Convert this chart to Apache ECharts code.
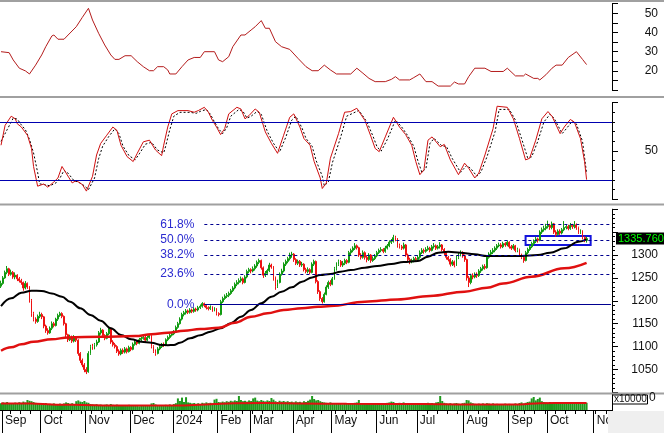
<!DOCTYPE html>
<html><head><meta charset="utf-8">
<script src="https://cdn.jsdelivr.net/npm/echarts@6/dist/echarts.min.js"></script>
<style>html,body{margin:0;padding:0;background:#fff}#c{width:664px;height:433px}</style>
</head><body><div id="c"></div>
<script>
// ---------- categories (trading days) ----------
const firstDay = '2023-08-31', lastDay = '2024-11-13';
const holidays = ['2023-09-01','2023-09-04','2024-01-01','2024-02-08','2024-02-09','2024-02-12','2024-02-13','2024-02-14','2024-04-18','2024-04-29','2024-04-30','2024-05-01','2024-09-02','2024-09-03'];
const monthNames = ['Jan','Feb','Mar','Apr','May','Jun','Jul','Aug','Sep','Oct','Nov','Dec'];

// ---------- price data (one value per trading day) ----------
const open = [1232,1238,1250,1262,1270,1258,1262,1252,1256,1248,1244,1240,1228,1238,1230,1200,1172,1160,1155,1166,1170,1165,1145,1135,1130,1140,1150,1146,1160,1168,1172,1166,1150,1126,1115,1121,1112,1120,1114,1085,1070,1060,1050,1045,1085,1100,1097,1104,1110,1130,1136,1124,1118,1128,1140,1110,1104,1100,1090,1084,1092,1088,1095,1089,1098,1094,1105,1110,1107,1115,1118,1120,1114,1120,1124,1100,1090,1085,1095,1100,1105,1103,1115,1120,1125,1128,1132,1142,1150,1160,1170,1174,1178,1175,1180,1177,1182,1180,1185,1188,1194,1190,1185,1183,1186,1180,1182,1172,1170,1198,1205,1210,1212,1216,1222,1228,1236,1240,1244,1248,1240,1252,1264,1268,1265,1270,1276,1284,1288,1272,1256,1260,1266,1278,1274,1250,1232,1240,1258,1265,1280,1286,1292,1300,1302,1290,1282,1286,1278,1280,1268,1264,1268,1262,1280,1286,1242,1220,1205,1198,1214,1230,1240,1236,1248,1270,1280,1286,1278,1282,1288,1284,1305,1310,1315,1320,1316,1300,1295,1305,1295,1290,1300,1288,1292,1298,1305,1310,1312,1308,1315,1320,1328,1330,1338,1335,1320,1318,1315,1322,1300,1290,1285,1288,1292,1290,1295,1305,1310,1308,1312,1315,1310,1318,1320,1315,1318,1322,1312,1305,1295,1290,1280,1285,1278,1295,1300,1305,1298,1290,1250,1240,1255,1252,1258,1255,1265,1270,1275,1272,1295,1302,1306,1310,1315,1320,1322,1318,1325,1322,1328,1318,1315,1320,1310,1312,1300,1295,1288,1305,1312,1318,1325,1330,1335,1332,1350,1355,1358,1362,1365,1360,1368,1350,1345,1352,1348,1355,1360,1362,1358,1365,1362,1366,1360,1350,1352,1338,1332];
const close = [1238,1250,1262,1270,1258,1262,1252,1256,1248,1244,1240,1228,1238,1230,1200,1172,1160,1155,1166,1170,1165,1145,1135,1130,1140,1150,1146,1160,1168,1172,1166,1150,1126,1115,1121,1112,1120,1114,1085,1070,1060,1050,1045,1085,1100,1097,1104,1110,1130,1136,1124,1118,1128,1140,1110,1104,1100,1090,1084,1092,1088,1095,1089,1098,1094,1105,1110,1107,1115,1118,1120,1114,1120,1124,1100,1090,1085,1095,1100,1105,1103,1115,1120,1125,1128,1132,1142,1150,1160,1170,1174,1178,1175,1180,1177,1182,1180,1185,1188,1194,1190,1185,1183,1186,1180,1182,1172,1170,1198,1205,1210,1212,1216,1222,1228,1236,1240,1244,1248,1240,1252,1264,1268,1265,1270,1276,1284,1288,1272,1256,1260,1266,1278,1274,1250,1232,1240,1258,1265,1280,1286,1292,1300,1302,1290,1282,1286,1278,1280,1268,1264,1268,1262,1280,1286,1242,1220,1205,1198,1214,1230,1240,1236,1248,1270,1280,1286,1278,1282,1288,1284,1305,1310,1315,1320,1316,1300,1295,1305,1295,1290,1300,1288,1292,1298,1305,1310,1312,1308,1315,1320,1328,1330,1338,1335,1320,1318,1315,1322,1300,1290,1285,1288,1292,1290,1295,1305,1310,1308,1312,1315,1310,1318,1320,1315,1318,1322,1312,1305,1295,1290,1280,1285,1278,1295,1300,1305,1298,1290,1250,1240,1255,1252,1258,1255,1265,1270,1275,1272,1295,1302,1306,1310,1315,1320,1322,1318,1325,1322,1328,1318,1315,1320,1310,1312,1300,1295,1288,1305,1312,1318,1325,1330,1335,1332,1350,1355,1358,1362,1365,1360,1368,1350,1345,1352,1348,1355,1360,1362,1358,1365,1362,1366,1360,1350,1352,1338,1332,1335.76];
const high = [1244,1254,1266,1276,1272,1268,1265,1262,1258,1252,1248,1242,1243,1240,1232,1204,1176,1164,1170,1176,1174,1167,1148,1140,1144,1155,1154,1163,1172,1176,1175,1168,1152,1128,1126,1124,1125,1122,1116,1088,1074,1064,1055,1090,1104,1106,1108,1115,1134,1141,1138,1127,1132,1144,1142,1114,1108,1103,1094,1096,1096,1099,1098,1102,1101,1109,1114,1113,1119,1122,1125,1123,1124,1128,1126,1103,1094,1099,1104,1108,1109,1118,1124,1129,1132,1136,1146,1154,1164,1174,1178,1182,1181,1184,1183,1186,1185,1189,1192,1197,1196,1193,1188,1190,1188,1186,1184,1175,1202,1209,1214,1217,1220,1226,1232,1240,1245,1249,1253,1251,1256,1268,1272,1271,1275,1280,1288,1292,1290,1275,1265,1270,1283,1281,1276,1253,1246,1262,1270,1284,1290,1296,1305,1307,1304,1293,1290,1289,1285,1282,1272,1273,1271,1284,1290,1288,1245,1223,1208,1218,1234,1244,1245,1252,1274,1284,1290,1289,1287,1292,1291,1309,1314,1319,1326,1323,1318,1304,1310,1308,1298,1304,1302,1297,1302,1309,1314,1317,1315,1320,1324,1332,1335,1344,1342,1337,1325,1322,1327,1324,1303,1294,1292,1296,1296,1300,1310,1315,1314,1317,1320,1318,1322,1326,1323,1322,1328,1324,1315,1308,1298,1293,1289,1288,1299,1305,1310,1308,1301,1292,1254,1259,1260,1262,1262,1269,1274,1279,1280,1299,1306,1311,1315,1319,1324,1327,1326,1329,1328,1332,1330,1322,1324,1322,1316,1314,1303,1298,1309,1316,1322,1329,1334,1340,1338,1354,1360,1364,1368,1375,1368,1373,1370,1354,1356,1356,1359,1374,1366,1366,1370,1368,1374,1369,1362,1356,1354,1341,1340];
const low = [1228,1235,1248,1258,1254,1255,1248,1247,1243,1240,1235,1222,1225,1226,1196,1165,1155,1150,1152,1162,1160,1140,1130,1126,1128,1136,1142,1144,1156,1165,1162,1146,1120,1110,1112,1108,1109,1110,1080,1064,1055,1044,1040,1043,1082,1093,1094,1100,1108,1126,1120,1114,1116,1125,1106,1100,1096,1086,1080,1081,1084,1085,1085,1087,1090,1092,1102,1103,1105,1112,1115,1110,1112,1117,1096,1086,1080,1083,1092,1097,1099,1101,1112,1117,1122,1125,1130,1139,1148,1157,1166,1170,1171,1172,1173,1174,1176,1177,1182,1185,1186,1181,1179,1180,1176,1177,1168,1166,1168,1195,1202,1206,1208,1213,1219,1225,1232,1236,1240,1236,1238,1249,1260,1260,1262,1266,1272,1280,1268,1250,1252,1256,1263,1270,1244,1224,1228,1238,1255,1262,1276,1282,1288,1294,1285,1278,1278,1274,1274,1264,1260,1260,1258,1260,1276,1238,1215,1200,1194,1196,1212,1226,1232,1234,1246,1266,1276,1274,1274,1278,1280,1282,1300,1306,1311,1312,1296,1290,1292,1290,1284,1287,1283,1285,1289,1295,1302,1306,1304,1305,1312,1317,1324,1327,1330,1316,1314,1311,1312,1296,1285,1280,1282,1284,1286,1287,1292,1302,1303,1305,1309,1306,1308,1314,1311,1312,1314,1308,1300,1290,1286,1275,1276,1273,1276,1291,1297,1294,1285,1244,1230,1236,1247,1249,1250,1252,1261,1266,1268,1270,1292,1298,1302,1306,1311,1317,1314,1315,1318,1319,1314,1311,1312,1306,1306,1296,1291,1283,1286,1302,1309,1315,1321,1326,1327,1330,1346,1351,1354,1358,1355,1356,1346,1340,1342,1344,1345,1352,1356,1354,1355,1357,1358,1355,1346,1346,1334,1328,1327];
const volume = [34,38,36,40,33,35,31,37,34,39,36,42,38,50,46,44,40,36,32,34,33,30,35,29,31,28,33,30,27,32,29,33,38,35,31,34,30,44,48,42,40,45,38,36,30,28,26,29,25,27,24,26,28,23,30,26,24,27,22,25,21,24,22,26,20,23,21,25,19,22,24,20,23,21,33,35,28,24,22,25,23,26,24,28,25,30,34,58,45,62,40,64,38,36,33,35,31,34,30,36,33,38,34,36,32,52,56,40,38,42,39,44,41,46,43,48,45,70,50,44,46,42,48,45,58,62,47,44,50,46,43,48,45,60,52,44,40,46,42,45,41,44,40,42,38,43,39,41,37,44,40,46,52,70,55,48,50,44,40,38,36,34,38,33,31,35,30,32,29,33,31,34,30,32,36,38,50,34,31,33,30,32,29,31,33,35,32,30,34,31,36,38,42,40,35,33,36,32,38,35,33,31,30,34,32,30,33,35,31,34,36,33,35,32,38,40,70,45,36,33,31,34,30,33,35,32,30,34,36,50,48,38,34,31,30,32,29,33,30,34,32,30,33,29,31,28,30,27,32,29,31,30,28,33,30,35,38,32,36,40,42,58,65,48,55,62,44,40,38,36,40,37,35,38,34,36,39,35,33,37,35,38,34,36,40,37,35,33,36];

// ---------- moving averages, read as [trading-day number, value] ----------
const maBlack = [[0,1188.6],[5,1205.5],[10,1217.7],[15,1222],[20,1221.6],[25,1216],[30,1209],[34,1198],[39,1183.6],[44,1169],[49,1156.6],[54,1140],[59,1125.3],[64,1116],[69,1110.7],[74,1108.6],[79,1103.5],[82,1103],[85,1103.5],[88,1108.6],[93,1118],[98,1125],[103,1132.6],[108,1140],[113,1151],[118,1165.3],[123,1180],[128,1194.5],[133,1209],[138,1220],[143,1229.5],[148,1241.8],[153,1251],[157,1256.3],[162,1258.5],[167,1263.6],[172,1267],[179,1272.3],[185,1276],[192,1280.3],[198,1284.7],[205,1287],[210,1296.3],[215,1305],[220,1307],[226,1305],[233,1301.5],[239,1297.8],[247,1297.8],[256,1298],[264,1300],[270,1305],[277,1314.5],[284,1329],[288,1334]];
const maRed = [[0,1091],[5,1098.4],[10,1105],[16,1110.7],[25,1116],[33,1120],[49,1121.6],[66,1123],[74,1126.8],[82,1130],[90,1134.7],[98,1138.4],[107,1141],[115,1152],[123,1165],[131,1172.6],[139,1180],[148,1183.6],[156,1187],[162,1188.6],[179,1198],[195,1203],[211,1210.5],[228,1220],[239,1228.6],[247,1238],[261,1252.6],[277,1271],[288,1283]];
const volMA = [[0,33],[15,33],[25,28],[40,25],[60,22],[83,22],[95,25],[105,30],[115,34],[130,35],[146,33],[170,31],[208,30],[230,28],[255,28],[265,34],[288,35]];

// ---------- indicators, read as [trading-day number, value] ----------
const adx = [[0,30],[4,29.5],[6,25.7],[9,21.4],[12,20],[14,18.4],[17,23],[20,28.3],[22,32.6],[25,38.2],[26,38.7],[28,36.5],[31,36.5],[33,38.7],[37,43],[40,47.9],[43,52.6],[45,46.5],[48,39.6],[51,33.5],[54,28.3],[56,26],[58,26],[61,27.9],[64,27.9],[67,24.8],[70,22.2],[73,20.1],[75,20.1],[77,22.2],[80,22.2],[82,20.5],[83,18.4],[86,18.4],[89,22.2],[92,25.7],[95,27],[98,27],[100,30],[105,30],[107,25.7],[109,24.8],[112,27.4],[114,32.6],[118,38.7],[120,38.7],[123,41.3],[125,43],[128,46.2],[130,42.2],[132,42.2],[135,35.2],[138,32.6],[142,31.2],[146,26.6],[150,22.2],[153,20.1],[156,20.1],[159,23],[162,20.5],[165,18.4],[172,18.4],[175,21.4],[178,18.8],[181,16.1],[184,14.4],[189,14.4],[192,15.6],[194,17],[196,15.3],[201,15.3],[203,16.5],[206,18.4],[209,14.4],[212,14.4],[215,12.1],[221,12.1],[223,14.2],[225,13.2],[228,13.2],[230,17],[233,21.4],[238,21.4],[241,19.7],[247,19.7],[249,21.4],[253,17.4],[257,17.4],[258,18.4],[262,16.1],[264,16.1],[265,15.3],[268,18],[271,21.4],[273,23],[276,23],[279,27],[283,30],[286,26],[288,23.3]];
const stochK = [[0,56],[2,76.5],[5,86],[7,83.3],[8,78.2],[10,74.8],[13,66.3],[15,52.7],[16,34],[18,13.6],[21,15.9],[23,12.6],[26,18],[28,22.1],[30,34],[32,27.2],[35,17],[37,19.4],[40,15.3],[42,8.5],[45,23.8],[47,45.9],[49,57.8],[52,66.3],[55,74.8],[57,71.4],[59,56],[62,44.2],[65,39.1],[67,47.6],[70,59.5],[73,61.2],[76,51],[79,45.2],[80,56],[82,74.8],[84,88.4],[87,91.8],[92,91.8],[95,90.1],[97,91.8],[100,95.2],[102,90.1],[104,81.6],[106,74.8],[108,67],[110,73.1],[112,88.4],[116,95.2],[118,93.5],[120,83.3],[122,86.7],[125,93.5],[127,90.1],[130,69.7],[133,57.8],[136,47.6],[139,66.3],[142,84.9],[144,88.4],[147,74.8],[149,62.9],[152,56],[154,39.1],[157,22.1],[158,11.2],[160,17],[162,42.5],[166,68],[169,90.1],[172,90.8],[175,94.2],[179,81.6],[182,64.6],[184,52.7],[186,49.3],[189,64.6],[193,84.9],[196,74.8],[199,67],[202,56],[204,39.1],[206,25.5],[208,30.6],[210,61.2],[212,64.6],[216,54.4],[218,56.8],[221,40.8],[225,25.5],[228,37.4],[230,32.3],[233,22.1],[235,27.2],[238,45.9],[242,73.1],[244,96.3],[249,95.2],[252,83.3],[255,62.9],[258,40.8],[260,42.5],[263,61.2],[266,83.3],[269,90.8],[271,86],[275,68],[277,74.8],[280,82.6],[282,79.9],[285,62.9],[287,39.1],[288,20.4]];
const stochD = [[0,60],[3,72],[6,84],[8,83],[10,77],[12,72],[14,62],[16,48],[18,28],[19,16],[22,15],[24,14],[27,17],[29,22],[31,30],[33,27],[36,19],[38,18],[41,14],[43,10],[46,22],[48,42],[50,55],[53,65],[56,73],[58,68],[60,55],[63,45],[66,41],[68,47],[71,57],[74,59],[77,51],[80,48],[81,55],[83,72],[85,86],[88,90],[93,90],[96,89],[98,91],[101,93],[103,88],[105,80],[107,73],[109,68],[111,74],[113,86],[117,93],[119,91],[121,84],[123,86],[126,91],[128,88],[131,70],[134,58],[137,49],[140,64],[143,82],[145,86],[148,74],[150,63],[153,55],[155,40],[158,24],[159,14],[161,18],[163,38],[167,64],[170,86],[173,89],[176,92],[180,80],[183,65],[185,54],[187,50],[190,62],[194,82],[197,75],[200,66],[203,55],[205,40],[207,28],[209,32],[211,58],[213,63],[217,55],[219,55],[222,42],[226,28],[229,35],[231,32],[234,24],[236,28],[239,44],[243,70],[245,93],[250,93],[253,82],[256,63],[259,43],[261,44],[264,60],[267,80],[270,88],[272,84],[276,68],[278,73],[281,81],[283,78],[286,60],[288,27]];
const stochBands = [80, 20];

// ---------- Fibonacci levels & annotation ----------
const fibLabels = ['61.8%','50.0%','38.2%','23.6%','0.0%'];
const fibValues = [1366.5,1333.2,1300,1258.9,1192.4];
const fibStartDay = 100;
const boxDays = [258, 290];
const boxValues = [1341.5, 1321.8];

// ---------- ticks ----------
const adxTicks = [20,30,40,50];
const stochTicks = [50];
const priceTicks = [1050,1100,1150,1200,1250,1300];

// ---------- build ----------
function tradingDays(){
  const out=[]; let d=new Date(firstDay+'T00:00:00Z'); const end=new Date(lastDay+'T00:00:00Z');
  while(d<=end){ const w=d.getUTCDay(); const s=d.toISOString().slice(0,10);
    if(w!==0&&w!==6&&holidays.indexOf(s)<0) out.push(s);
    d=new Date(d.getTime()+86400000);}
  return out;
}
const dates = tradingDays();
const monthStart = dates.map((s,i)=> i>0 && s.slice(0,7)!==dates[i-1].slice(0,7));
const weekStart = dates.map((s,i)=> i>0 && new Date(s+'T00:00:00Z').getUTCDay() <= new Date(dates[i-1]+'T00:00:00Z').getUTCDay());
const candles = close.map((c,i)=>[open[i], c, low[i], high[i]]);
const lastClose = close[close.length-1];

const FONT = 'Liberation Sans, Arial, sans-serif';
const GREEN = '#109a10', RED = '#ee1111';
const NAVY = '#0000b0';

function xHidden(g){ return {type:'category', gridIndex:g, data:dates, boundaryGap:true, position:'bottom',
  axisLine:{show:false}, axisTick:{show:false}, axisLabel:{show:false}, splitLine:{show:false}}; }
function yAx(g, min, max, interval, minorSplit, shown){
  return {type:'value', gridIndex:g, position:'right', min:min, max:max, interval:interval,
    splitLine:{show:false},
    axisLine:{show:true, onZero:false, lineStyle:{color:'#000', width:1}},
    axisTick:{show:true, length:6, lineStyle:{color:'#000'}},
    minorTick:{show: minorSplit>0, splitNumber: minorSplit||5, length:3, lineStyle:{color:'#000'}},
    axisLabel:{show:true, align:'right', margin:46, fontSize:12, color:'#111', fontFamily:FONT,
      formatter:(v)=> shown.indexOf(v)>=0 ? String(v) : ''}};
}

const chart = echarts.init(document.getElementById('c'), null, {renderer:'canvas'});
chart.setOption({
  animation:false,
  backgroundColor:'#ffffff',
  grid:[
    {left:0, width:612, top:3.7, height:86.4, containLabel:false, outerBoundsMode:'none'},
    {left:0, width:612, top:102.67, height:96.67, containLabel:false, outerBoundsMode:'none'},
    {left:0, width:612, top:209.2, height:183.2, containLabel:false, outerBoundsMode:'none'},
    {left:0, width:612, top:394, height:16, containLabel:false, outerBoundsMode:'none'}
  ],
  xAxis:[
    xHidden(0), xHidden(1), xHidden(2),
    {type:'category', gridIndex:3, data:dates, boundaryGap:true, position:'bottom', splitLine:{show:false},
      axisLine:{show:true, lineStyle:{color:'#000', width:1}},
      axisTick:{show:true, interval:(i)=>weekStart[i], length:4, lineStyle:{color:'#000'}},
      axisLabel:{show:true, interval:(i)=>monthStart[i], align:'left', margin:5, padding:[0,0,0,2],
        hideOverlap:false,
        fontSize:12, color:'#111', fontFamily:FONT,
        formatter:(v)=> v.slice(5,7)==='01' ? v.slice(0,4) : monthNames[+v.slice(5,7)-1]}},
    {type:'category', gridIndex:3, data:dates, boundaryGap:true, position:'bottom', offset:0, splitLine:{show:false},
      axisLine:{show:false}, axisLabel:{show:false},
      axisTick:{show:true, interval:(i)=>monthStart[i], length:23, lineStyle:{color:'#000'}}}
  ],
  yAxis:[
    yAx(0, 10, 55, 5, 0, adxTicks),
    yAx(1, 0, 100, 50, 5, stochTicks),
    yAx(2, 1000, 1400, 50, 5, priceTicks),
    {type:'value', gridIndex:3, position:'right', min:0, max:80, interval:40, splitLine:{show:false},
      axisLine:{show:true, lineStyle:{color:'#000'}}, axisTick:{show:false}, axisLabel:{show:false}}
  ],
  series:[
    {type:'line', name:'ADX', xAxisIndex:0, yAxisIndex:0, data:adx, symbol:'none', silent:true,
      lineStyle:{color:'#b41c1c', width:1}},
    {type:'line', name:'%D', xAxisIndex:1, yAxisIndex:1, data:stochD, symbol:'none', silent:true,
      lineStyle:{color:'#000', width:1, type:[2,2]}},
    {type:'line', name:'%K', xAxisIndex:1, yAxisIndex:1, data:stochK, symbol:'none', silent:true,
      lineStyle:{color:'#d01010', width:1},
      markLine:{silent:true, symbol:'none', animation:false, label:{show:false},
        lineStyle:{color:NAVY, width:1, type:'solid'},
        data: stochBands.map(v=>({yAxis:v}))}},
    {type:'candlestick', name:'Price', xAxisIndex:2, yAxisIndex:2, data:candles, barWidth:1.4, silent:true,
      itemStyle:{color:GREEN, color0:RED, borderColor:GREEN, borderColor0:RED, borderWidth:1},
      markLine:{silent:true, symbol:'none', animation:false,
        lineStyle:{color:'rgba(0,0,0,0)', width:1, type:'solid'},
        label:{show:true, position:'end', distance:4, formatter:lastClose.toFixed(3),
          backgroundColor:'#000000', color:'#00ff00', fontSize:11, fontFamily:FONT, padding:[1,2,0,2]},
        data:[{yAxis:lastClose}]}},
    {type:'line', name:'MA black', xAxisIndex:2, yAxisIndex:2, data:maBlack, symbol:'none', silent:true,
      smooth:0.4, smoothMonotone:'x', lineStyle:{color:'#000', width:2},
      markLine:{silent:true, symbol:'none', animation:false,
        data: fibValues.map((v,k)=>[
          {coord:[fibStartDay, v],
           lineStyle:{color:'#000090', width:1, type: fibLabels[k]==='0.0%' ? 'solid' : [3,3]},
           label:{show:true, position:'start', distance:10, formatter:fibLabels[k], color:'#2b2bd0', fontSize:12, fontFamily:FONT}},
          {coord:[dates.length-1, v]}])},
      markArea:{silent:true, itemStyle:{color:'rgba(0,0,0,0)', borderColor:'#1414dc', borderWidth:2},
        data:[[{coord:[boxDays[0], boxValues[0]]},{coord:[boxDays[1], boxValues[1]]}]]}},
    {type:'line', name:'MA red', xAxisIndex:2, yAxisIndex:2, data:maRed, symbol:'none', silent:true,
      smooth:0.4, smoothMonotone:'x', lineStyle:{color:'#e01010', width:2.5}},
    {type:'bar', name:'Volume', xAxisIndex:3, yAxisIndex:3, data:volume, barWidth:2, silent:true,
      itemStyle:{color:'#1f9a1f'}},
    {type:'line', name:'Vol MA', xAxisIndex:3, yAxisIndex:3, data:volMA, symbol:'none', silent:true,
      smooth:0.4, lineStyle:{color:'#e01010', width:2}}
  ],
  graphic:[
    {type:'rect', z:100, silent:true, shape:{x:0, y:0, width:664, height:2}, style:{fill:'#a0a0a0'}},
    {type:'rect', z:100, silent:true, shape:{x:0, y:96, width:664, height:2}, style:{fill:'#a0a0a0'}},
    {type:'rect', z:100, silent:true, shape:{x:0, y:203.5, width:664, height:2}, style:{fill:'#a0a0a0'}},
    {type:'rect', z:100, silent:true, shape:{x:0, y:392.5, width:664, height:2}, style:{fill:'#a0a0a0'}},
    {type:'rect', z:100, silent:true, shape:{x:608, y:411, width:56, height:22}, style:{fill:'#efefef'}},
    {type:'rect', z:101, silent:true, shape:{x:612.5, y:395, width:35, height:9}, style:{fill:'#fff', stroke:'#000', lineWidth:1}},
    {type:'text', z:102, silent:true, x:614, y:399.5, style:{text:'x10000', fontSize:10, fontFamily:FONT, fill:'#111', verticalAlign:'middle'}},
    {type:'text', z:102, silent:true, x:649, y:398, style:{text:'0', fontSize:12, fontFamily:FONT, fill:'#111', verticalAlign:'middle'}}
  ]
});
</script>
</body></html>
